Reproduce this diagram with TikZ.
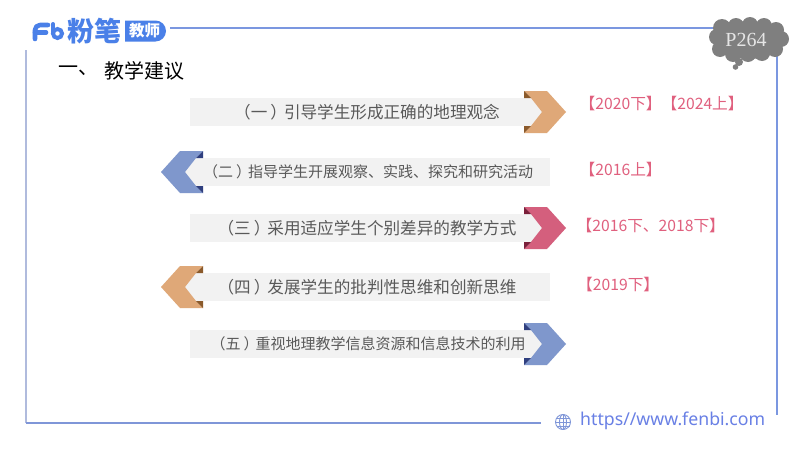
\documentclass[tikz,border=0pt]{standalone}
\usepackage{fontspec}
\setmainfont{Noto Sans CJK SC}
\newfontfamily\serifen{Liberation Serif}
\newfontfamily\urlfont{Noto Sans}
\definecolor{framea}{HTML}{7B97E0}
\definecolor{frameb}{HTML}{B0BBDD}
\definecolor{framec}{HTML}{7F96D8}
\definecolor{brand}{HTML}{4A80E8}
\definecolor{barfill}{HTML}{F2F2F2}
\definecolor{bartext}{HTML}{595959}
\definecolor{tanc}{HTML}{DFA878}
\definecolor{tand}{HTML}{8B5A2B}
\definecolor{bluec}{HTML}{7F97CC}
\definecolor{blued}{HTML}{2F3F7F}
\definecolor{pinkc}{HTML}{D45F7D}
\definecolor{pinkd}{HTML}{7A1F3A}
\definecolor{tagc}{HTML}{E0607E}
\definecolor{cloudc}{HTML}{7F7F7F}
\newcommand{\chevR}[3]{%
  \fill[#2] (524,#1-21) -- (547,#1-21) -- (566,#1) -- (547,#1+21) -- (524,#1+21) -- (531,#1+14) -- (542,#1) -- (531,#1-14) -- cycle;
  \fill[#3] (524,#1-21) -- (531,#1-14) -- (524,#1-14) -- cycle;
  \fill[#3] (524,#1+21) -- (531,#1+14) -- (524,#1+14) -- cycle;}
\newcommand{\chevL}[3]{%
  \fill[#2] (203,#1-21) -- (180,#1-21) -- (161,#1) -- (180,#1+21) -- (203,#1+21) -- (196,#1+14) -- (185,#1) -- (196,#1-14) -- cycle;
  \fill[#3] (203,#1-21) -- (196,#1-14) -- (203,#1-14) -- cycle;
  \fill[#3] (203,#1+21) -- (196,#1+14) -- (203,#1+14) -- cycle;}
\newcommand{\parnum}[1]{（#1\hspace{3pt}）\hspace{-3pt}}
\tikzset{
  barbox/.style={fill=barfill,draw=none},
  barlabel/.style={inner sep=0pt,text=bartext,font=\fontsize{#1}{#1}\selectfont},
  taglabel/.style={inner sep=0pt,anchor=west,text=tagc,font=\fontsize{15.7}{15.7}\selectfont},
  frameline/.style={line width=2pt}
}
\begin{document}
\begin{tikzpicture}[x=1pt,y=-1pt]
\useasboundingbox (0,0) rectangle (800,450);
\fill[white] (0,0) rectangle (800,450);
% frame
\draw[frameline,framea] (170,28) -- (718,28);
\draw[frameline,framea] (777,55) -- (777,415);
\draw[frameline,frameb] (26,50) -- (26,423);
\draw[line width=1.6pt,framec] (26,423) -- (541,423);
% logo
\draw[brand,line width=4.6pt,line cap=round,line join=round] (35,39) -- (35,30) arc[start angle=180,end angle=270,radius=5] -- (48,25);
\draw[brand,line width=4.6pt,line cap=round] (35,32.5) -- (46,32.5);
\draw[brand,line width=4pt,line cap=round] (53,24) -- (53,33);
\draw[brand,line width=4pt] (57.5,33.5) circle[radius=4.5];
\node[inner sep=0pt,text=brand] (brandname) at (94.5,31) {\fontsize{27}{27}\selectfont\bfseries 粉笔};
\fill[brand] (125,20.5) -- (155.5,20.5) arc[start angle=270,end angle=450,radius=10.5] -- (125,41.5) -- cycle;
\node[inner sep=0pt,text=white] (brandtag) at (144.5,31) {\fontsize{15.5}{15.5}\selectfont\bfseries 教师};
% heading
\node[inner sep=0pt,anchor=west,text=black] (headnum) at (58,71) {\fontsize{20}{20}\selectfont 一、};
\node[inner sep=0pt,anchor=west,text=black] (headtext) at (104,71) {\fontsize{20}{20}\selectfont 教学建议};
% cloud
\fill[cloudc] (749,40) ellipse[x radius=35,y radius=19];
\foreach \cx/\cy/\cr in {717/37/8,722/28/9,736/26/8,750/25/8,764/26/8,776/30/8,781/39/8,775/49/8,762/53/8,748/54/8,733/54/8,720/49/8}
  \fill[cloudc] (\cx,\cy) circle[radius=\cr];
\fill[cloudc] (739,62) circle[radius=4];
\fill[cloudc] (735.5,67) circle[radius=2.8];
\node[inner sep=0pt,text=white!90!black] (page) at (746,39.5) {\fontsize{20}{20}\selectfont\serifen P264};
% bars
\fill[barbox] (190,98) rectangle (542,126);
\fill[barbox] (185,158) rectangle (550,186);
\fill[barbox] (190,214) rectangle (542,242);
\fill[barbox] (185,273) rectangle (550,301);
\fill[barbox] (190,330) rectangle (542,358);
\chevR{112}{tanc}{tand}
\chevL{172}{bluec}{blued}
\chevR{228}{pinkc}{pinkd}
\chevL{287}{tanc}{tand}
\chevR{344}{bluec}{blued}
\node[barlabel=16.6] (itema) at (367,112) {\parnum{一}引导学生形成正确的地理观念};
\node[barlabel=15] (itemb) at (368,172) {\parnum{二}指导学生开展观察、实践、探究和研究活动};
\node[barlabel=16.6] (itemc) at (367,228) {\parnum{三}采用适应学生个别差异的教学方式};
\node[barlabel=16.6] (itemd) at (367,287) {\parnum{四}发展学生的批判性思维和创新思维};
\node[barlabel=15] (iteme) at (368,344) {\parnum{五}重视地理教学信息资源和信息技术的利用};
% tags
\node[taglabel] (taga) at (579.5,103.5) {【2020下】【2024上】};
\node[taglabel] (tagb) at (579.5,169.5) {【2016上】};
\node[taglabel] (tagc) at (576.5,225.5) {【2016下、2018下】};
\node[taglabel] (tagd) at (577,284.5) {【2019下】};
% footer
\begin{scope}[framec,line width=.9pt]
\draw (563,422) circle[radius=7.5];
\draw (563,422) ellipse[x radius=3.5,y radius=7.5];
\draw (563,414.5) -- (563,429.5);
\draw (555.5,422) -- (570.5,422);
\draw (556.5,418) -- (569.5,418);
\draw (556.5,426) -- (569.5,426);
\end{scope}
\node[inner sep=0pt,anchor=west,text=framea!85!blue] (url) at (580,421) {\fontsize{17.7}{17.7}\selectfont\urlfont https//www.fenbi.com};
\end{tikzpicture}
\end{document}
